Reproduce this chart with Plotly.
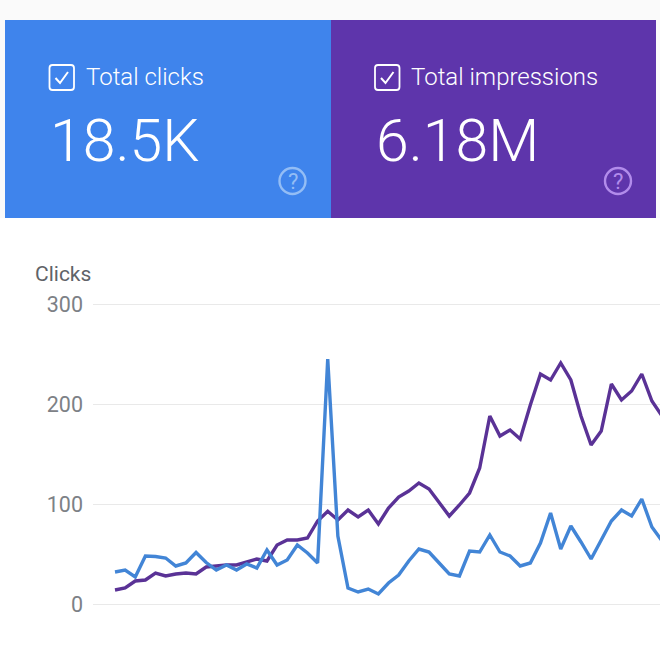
import plotly.graph_objects as go

clicks = [32, 34, 27, 48, 47.5, 46, 38, 41, 51.5, 41.5, 34, 39, 34, 40, 36, 54, 39, 44, 59, 51, 41,
          245, 68, 16, 12, 15, 10, 21, 29, 43, 55, 52, 41, 30, 28, 53, 52, 69, 52, 48, 38, 41, 61,
          91, 55, 78, 62, 45, 64, 83, 94, 88, 105, 77, 63]
impressions = [14, 16, 23, 24, 31, 28, 30, 31, 30, 37, 38, 39, 39, 42, 45, 43, 59, 64, 64, 66, 83,
               92.7, 84, 94, 87, 94, 80, 96, 107, 113, 121, 115, 101, 88, 99, 111, 136, 188, 168,
               174, 165, 199, 230, 224, 241, 224, 188, 159, 173, 220, 204, 213, 230, 203, 188]
periods = list(range(len(clicks)))
y_ticks = [0, 100, 200, 300]
card_titles = ["Total clicks", "Total impressions"]
card_values = ["18.5K", "6.18M"]
y_title = "Clicks"

BLUE, PURPLE = "#3f84ec", "#5e35ab"
LINE_BLUE, LINE_PURPLE = "#4285d6", "#5a3296"
L, T, B = 93, 302, 607
W = 660 - L
H = B - T
fx = lambda p: (p - L) / W
fy = lambda p: (B - p) / H

shapes = []
annotations = []

def rect(x0, y0, x1, y1, color):
    shapes.append(dict(type="rect", xref="paper", yref="paper", x0=fx(x0), x1=fx(x1), y0=fy(y0), y1=fy(y1),
                       fillcolor=color, line_width=0, layer="below"))

def path(d, color, width):
    pts = " ".join(c + " ".join(f"{fx(x):.5f},{fy(y):.5f}" for x, y in p) for c, p in d)
    shapes.append(dict(type="path", xref="paper", yref="paper", path=pts, line=dict(color=color, width=width)))

def text(x, y, s, size, color, family="Roboto"):
    annotations.append(dict(xref="paper", yref="paper", x=fx(x), y=fy(y), text=s, showarrow=False,
                            xanchor="left", yanchor="middle",
                            font=dict(size=size, color=color, family=family)))

rect(0, 0, 660, 218, "#fafafa")
rect(5, 20, 331, 218, BLUE)
rect(331, 20, 656, 218, PURPLE)

for off, title, value, ring in [(0, card_titles[0], card_values[0], "#93bdf5"),
                                (325.5, card_titles[1], card_values[1], "#b28ceb")]:
    x0, x1, y0, y1, r = 49.5 + off, 74 + off, 65, 90, 3
    path([("M", [(x0 + r, y0)]), ("L", [(x1 - r, y0)]), ("Q", [(x1, y0), (x1, y0 + r)]),
          ("L", [(x1, y1 - r)]), ("Q", [(x1, y1), (x1 - r, y1)]),
          ("L", [(x0 + r, y1)]), ("Q", [(x0, y1), (x0, y1 - r)]),
          ("L", [(x0, y0 + r)]), ("Q", [(x0, y0), (x0 + r, y0)])], "white", 1.8)
    path([("M", [(55.5 + off, 78)]), ("L", [(60 + off, 83)]), ("L", [(68 + off, 72)])], "white", 2)
    text(83.5 + off, 77, title, 24, "white", "Roboto Light, Roboto")
    text(48 + off, 141, value, 59, "white", "Roboto Light, Roboto")
    cx, cy = 292.5 + off, 181
    shapes.append(dict(type="circle", xref="paper", yref="paper", x0=fx(cx - 13), x1=fx(cx + 13),
                       y0=fy(cy - 13), y1=fy(cy + 13), line=dict(color=ring, width=2.4)))
    annotations.append(dict(xref="paper", yref="paper", x=fx(cx), y=fy(cy), text="?", showarrow=False,
                            xanchor="center", yanchor="middle",
                            font=dict(size=22, color=ring, family="Roboto")))

text(33, 274, y_title, 21, "#5f6368")

fig = go.Figure()
fig.add_trace(go.Scatter(x=periods, y=impressions, mode="lines", line=dict(color=LINE_PURPLE, width=3.4),
                         name="Impressions"))
fig.add_trace(go.Scatter(x=periods, y=clicks, mode="lines", line=dict(color=LINE_BLUE, width=3.4),
                         name="Clicks"))
fig.update_layout(
    width=660, height=660, autosize=False, showlegend=False,
    margin=dict(l=L, r=0, t=T, b=660 - B, pad=0),
    paper_bgcolor="white", plot_bgcolor="white",
    shapes=shapes, annotations=annotations,
    xaxis=dict(range=[(L - 115) / 10.13, (660 - 115) / 10.13], showgrid=False, zeroline=False,
               showticklabels=False, ticks=""),
    yaxis=dict(range=[-3, 302], tickvals=y_ticks, gridcolor="#e9e9e9", gridwidth=1.2, zeroline=True,
               zerolinecolor="#e9e9e9", zerolinewidth=1.2,
               ticks="", ticklabelstandoff=9, tickfont=dict(size=21.5, color="#7d8186", family="Roboto")),
)
fig.write_html("out.html", config=dict(displayModeBar=False),
               post_script="document.body.style.margin='0';document.body.style.overflow='hidden';")
